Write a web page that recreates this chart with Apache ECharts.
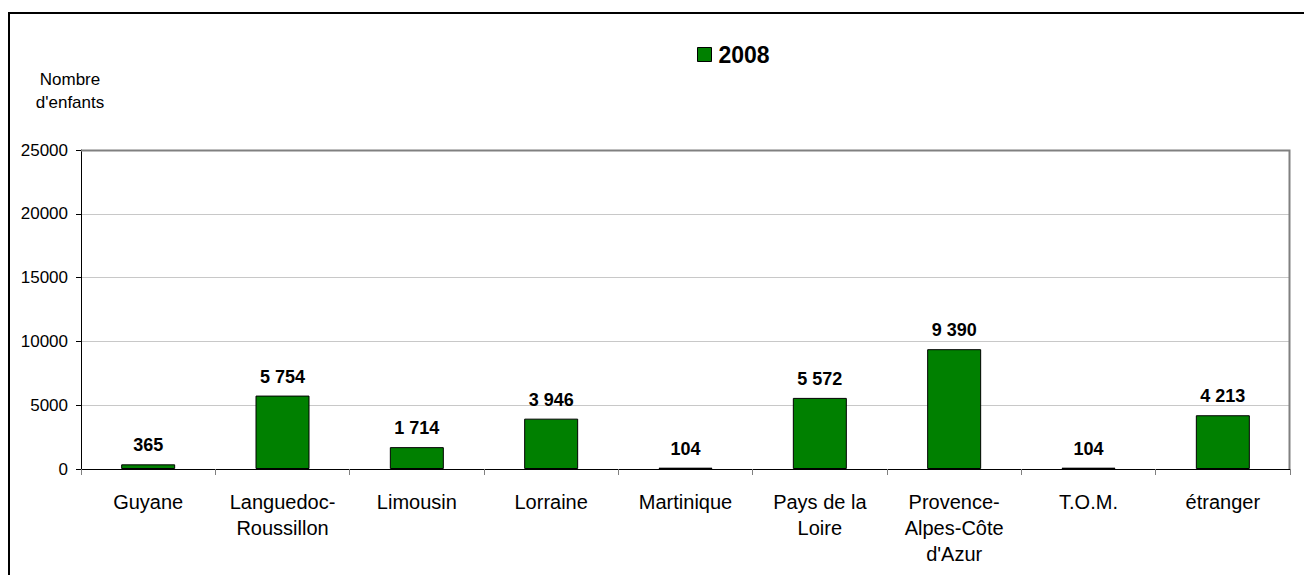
<!DOCTYPE html>
<html><head><meta charset="utf-8">
<script src="https://cdn.jsdelivr.net/npm/echarts@6/dist/echarts.min.js"></script>
<style>html,body{margin:0;padding:0;background:#fff}#c{width:1304px;height:575px}</style>
</head><body><div id="c"></div>
<script>
const categories = ['Guyane','Languedoc-\nRoussillon','Limousin','Lorraine','Martinique','Pays de la\nLoire','Provence-\nAlpes-Côte\nd\'Azur','T.O.M.','étranger'];
const values2008 = [365, 5754, 1714, 3946, 104, 5572, 9390, 104, 4213];
const seriesName = '2008';
const yTicks = {min: 0, max: 25000, interval: 5000};
const yAxisTitle = 'Nombre\nd\'enfants';

const font = '"Liberation Sans", Arial, sans-serif';
const chart = echarts.init(document.getElementById('c'), null, {renderer: 'svg'});
function fmt(v){ return String(v).replace(/\B(?=(\d{3})+(?!\d))/g, ' '); }
chart.setOption({
  animation: false,
  backgroundColor: '#fff',
  graphic: [
    {type: 'polyline', shape: {points: [[9, 600], [9, 13], [1320, 13]]}, style: {stroke: '#000', lineWidth: 2, fill: null}, silent: true},
    {type: 'polyline', shape: {points: [[81, 150.5], [1289.5, 150.5], [1289.5, 469]]}, style: {stroke: '#808080', lineWidth: 2, fill: null}, silent: true, z: 5}
  ],
  legend: {
    left: 692, top: 38,
    itemWidth: 14, itemHeight: 14, itemGap: 10,
    icon: 'rect',
    textStyle: {fontFamily: font, fontSize: 23, fontWeight: 'bold', color: '#000', padding: [0,0,0,2]},
    itemStyle: {borderColor: '#000', borderWidth: 1},
    data: [seriesName]
  },
  grid: {left: 81, top: 150, right: 14, bottom: 106, containLabel: false},
  xAxis: {
    type: 'category', data: categories,
    axisLine: {lineStyle: {color: '#000', width: 1}},
    axisTick: {show: true, length: 6, lineStyle: {color: '#808080'}, alignWithLabel: false},
    axisLabel: {fontFamily: font, fontSize: 20, color: '#000', margin: 20, lineHeight: 26, interval: 0}
  },
  yAxis: {
    type: 'value', min: yTicks.min, max: yTicks.max, interval: yTicks.interval,
    name: yAxisTitle, nameLocation: 'end', nameGap: 36,
    nameTextStyle: {fontFamily: font, fontSize: 17, color: '#000', lineHeight: 23, align: 'center', padding: [0, 22, 0, 0]},
    axisLine: {show: true, lineStyle: {color: '#000', width: 1}},
    axisTick: {show: true, length: 5, lineStyle: {color: '#000'}},
    axisLabel: {fontFamily: font, fontSize: 17, color: '#000', margin: 13, formatter: v => String(v)},
    splitLine: {lineStyle: {color: '#c8c8c8', width: 1}}
  },
  series: [{
    name: seriesName, type: 'bar', data: values2008, barWidth: 54,
    itemStyle: {color: '#008000', borderColor: '#000', borderWidth: 1},
    label: {show: true, position: 'top', distance: 10, formatter: p => fmt(p.value),
      fontFamily: font, fontSize: 18, fontWeight: 'bold', color: '#000'}
  }]
});
</script></body></html>
